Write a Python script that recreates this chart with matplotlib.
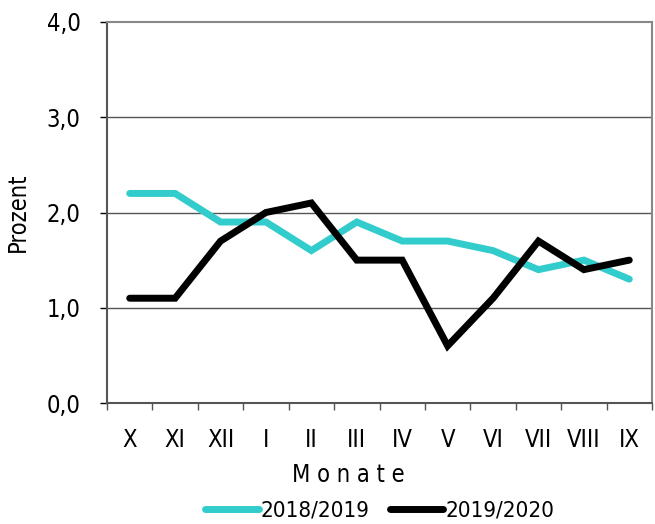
import numpy as np
import matplotlib
matplotlib.use('Agg')
import matplotlib.pyplot as plt
from matplotlib import font_manager

######################
# Data
months = ['X', 'XI', 'XII', 'I', 'II', 'III', 'IV', 'V', 'VI', 'VII', 'VIII', 'IX']
s2018 = [2.2, 2.2, 1.9, 1.9, 1.6, 1.9, 1.7, 1.7, 1.6, 1.4, 1.5, 1.3]
s2019 = [1.1, 1.1, 1.7, 2.0, 2.1, 1.5, 1.5, 0.6, 1.1, 1.7, 1.4, 1.5]
yticks = [0.0, 1.0, 2.0, 3.0, 4.0]

# narrow-ish font: use condensed DejaVu if it is there
condensed = any(f.name == 'DejaVu Sans' and f.stretch == 'condensed'
                for f in font_manager.fontManager.ttflist)
plt.rcParams['font.family'] = ['DejaVu Sans']
if condensed:
    plt.rcParams['font.stretch'] = 'condensed'

fig = plt.figure(figsize=(6.55, 5.24), dpi=100)
ax = fig.add_axes([107 / 655, 1 - 403 / 524, 545 / 655, 381 / 524])

x = np.arange(len(months))
ax.plot(x, s2018, color='#33cccc', lw=5, solid_capstyle='round',
        solid_joinstyle='miter', label='2018/2019', zorder=3)
ax.plot(x, s2019, color='black', lw=5, solid_capstyle='round',
        solid_joinstyle='miter', label='2019/2020', zorder=4)

ax.set_xlim(-0.5, len(months) - 0.5)
ax.set_ylim(0, 4)
ax.set_yticks(yticks)
ax.set_yticklabels([('%.1f' % v).replace('.', ',') for v in yticks])
for v in yticks[1:-1]:
    ax.axhline(v, color='#555555', lw=1, zorder=1)

# category boundaries as ticks, labels in between
ax.set_xticks(np.arange(len(months) + 1) - 0.5)
ax.set_xticklabels([])
ax.set_xticks(x, minor=True)
ax.set_xticklabels(months, minor=True)
ax.tick_params(axis='x', which='major', direction='out', length=5,
               color='#555555', width=1)
ax.tick_params(axis='x', which='minor', length=0, pad=18, labelsize=17)
ax.tick_params(axis='y', direction='out', length=5, color='black', width=1,
               labelsize=17, pad=14)

for side in ['top', 'right']:
    ax.spines[side].set_color('#888888')
    ax.spines[side].set_linewidth(1.5)
for side in ['left', 'bottom']:
    ax.spines[side].set_color('#555555')
    ax.spines[side].set_linewidth(1.5)

ax.set_ylabel('Prozent', fontsize=17, labelpad=12)
ax.set_xlabel('M o n a t e', fontsize=17, labelpad=8)
# the month label sits a bit left of centre in the original
ax.xaxis.label.set_x((348 - 107) / 545)

fig.legend(*ax.get_legend_handles_labels(), loc='center',
           bbox_to_anchor=(0.58, 1 - 511 / 524), ncol=2,
           frameon=False, fontsize=16, handlelength=2.4, columnspacing=0.9,
           handletextpad=0.1, borderpad=0.0, borderaxespad=0.0)

fig.savefig('out.png', dpi=100)
